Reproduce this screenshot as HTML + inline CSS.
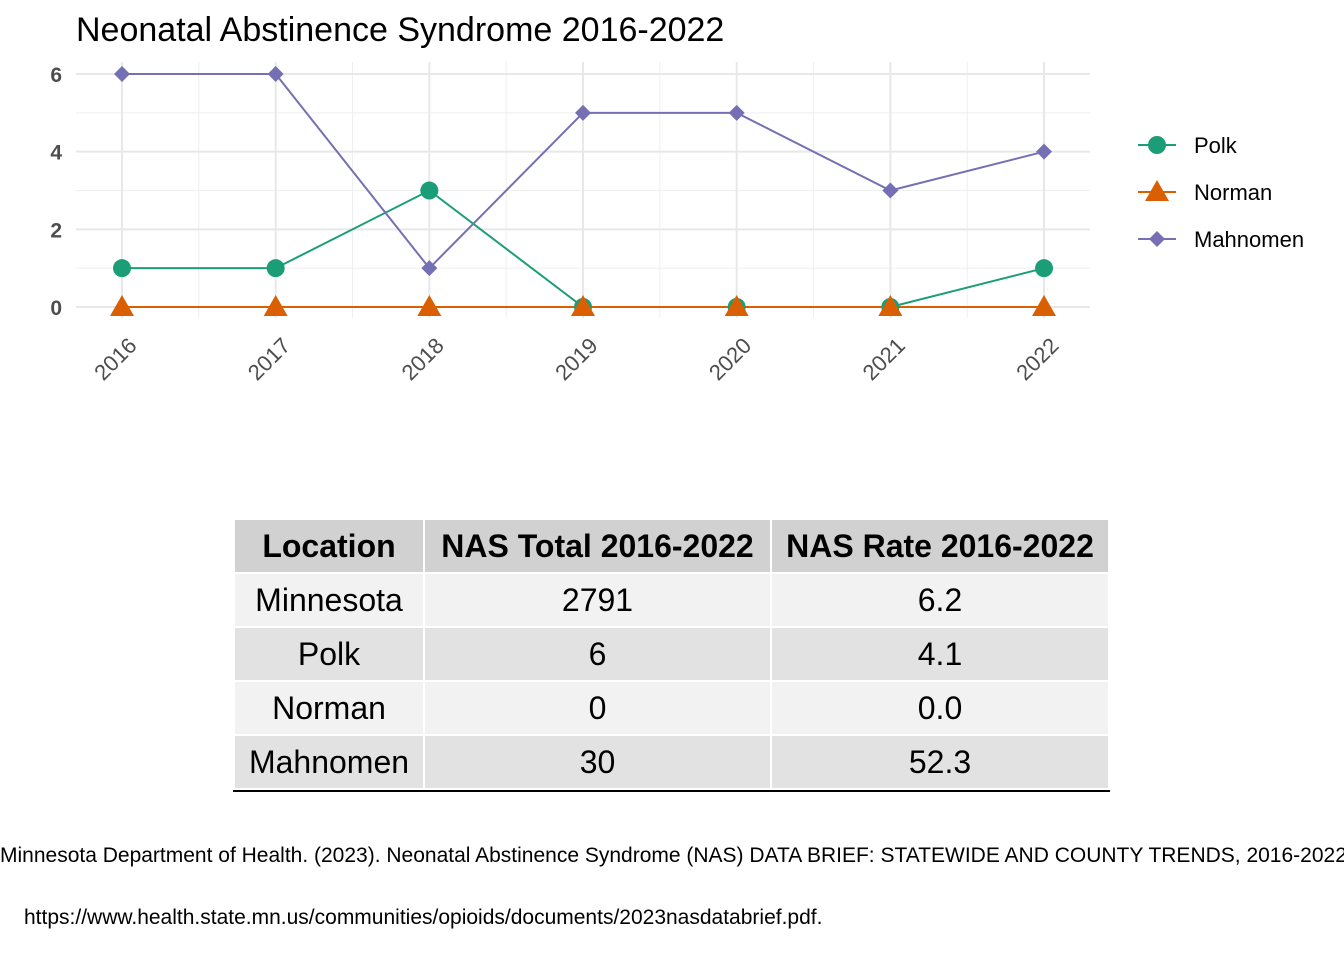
<!DOCTYPE html>
<html><head><meta charset="utf-8"><style>
body{margin:0;width:1344px;height:960px;background:#fff;font-family:"Liberation Sans",Arial,sans-serif;position:relative;overflow:hidden}
table{position:absolute;left:233px;top:518px;border-collapse:separate;border-spacing:2px 2px;border-bottom:2px solid #000}
td,th{font-size:32px;text-align:center;padding:0;height:52px;line-height:52px;color:#000;box-sizing:border-box}
th{background:#d1d1d1;font-weight:bold}
tr.o td{background:#f2f2f2} tr.e td{background:#e2e2e2}
.src{position:absolute;font-size:21px;color:#000;white-space:nowrap}
</style></head><body>
<svg id="chart" width="1344" height="420" style="position:absolute;left:0;top:0">
<text x="76" y="41" font-size="34" fill="#000">Neonatal Abstinence Syndrome 2016-2022</text>
<g id="grid"></g><g id="series"></g><g id="axes"></g><g id="legend"></g>
</svg>
<table>
<tr><th style="width:188px">Location</th><th style="width:345px">NAS Total 2016-2022</th><th style="width:336px">NAS Rate 2016-2022</th></tr>
<tr class="o"><td>Minnesota</td><td>2791</td><td>6.2</td></tr>
<tr class="e"><td>Polk</td><td>6</td><td>4.1</td></tr>
<tr class="o"><td>Norman</td><td>0</td><td>0.0</td></tr>
<tr class="e"><td>Mahnomen</td><td>30</td><td>52.3</td></tr>
</table>
<div class="src" style="left:0;top:844px">Minnesota Department of Health. (2023). Neonatal Abstinence Syndrome (NAS) DATA BRIEF: STATEWIDE AND COUNTY TRENDS, 2016-2022</div>
<div class="src" style="left:24px;top:906px">https://www.health.state.mn.us/communities/opioids/documents/2023nasdatabrief.pdf.</div>
<script>
const years=[2016,2017,2018,2019,2020,2021,2022];
const polk=[1,1,3,0,0,0,1];
const norman=[0,0,0,0,0,0,0];
const mahnomen=[6,6,1,5,5,3,4];
const yTicks=[0,2,4,6];
const seriesNames=["Polk","Norman","Mahnomen"];
const NS="http://www.w3.org/2000/svg";
const xs=y=>122+(y-2016)*153.67;
const ys=v=>307-v*38.83;
function mk(tag,attrs,parent){const e=document.createElementNS(NS,tag);for(const k in attrs)e.setAttribute(k,attrs[k]);parent.appendChild(e);return e;}
const grid=document.getElementById('grid'),ser=document.getElementById('series'),ax=document.getElementById('axes'),lg=document.getElementById('legend');
for(let v=1;v<=5;v+=2){const l=mk('line',{x1:76,x2:1090,y1:ys(v),y2:ys(v),stroke:'#efefef','stroke-width':1},grid);}
for(let i=0;i<years.length-1;i++){const x=(xs(years[i])+xs(years[i+1]))/2;const l=mk('line',{x1:x,x2:x,y1:62,y2:318,stroke:'#efefef','stroke-width':1},grid);}
yTicks.forEach(v=>{const l=mk('line',{x1:76,x2:1090,y1:ys(v),y2:ys(v),stroke:'#e8e8e8','stroke-width':2},grid);
const t=mk('text',{x:62,y:ys(v)+8,'text-anchor':'end','font-size':21,'font-weight':'bold',fill:'#4d4d4d'},ax);t.textContent=v;});
years.forEach(y=>{const l=mk('line',{x1:xs(y),x2:xs(y),y1:62,y2:318,stroke:'#e8e8e8','stroke-width':2},grid);
const t=mk('text',{x:0,y:0,'text-anchor':'end','font-size':22,fill:'#4d4d4d',transform:`translate(${xs(y)+16},${347}) rotate(-45)`},ax);t.textContent=y;});
const colors=['#1b9e77','#d95f02','#7570b3'];
function marker(k,x,y,p){let e;
 if(k===0)e=mk('circle',{cx:x,cy:y,r:9,fill:colors[0]},p);
 else if(k===1)e=mk('polygon',{points:`${x},${y-12} ${x+12},${y+9} ${x-12},${y+9}`,fill:colors[1]},p);
 else e=mk('polygon',{points:`${x},${y-8} ${x+8},${y} ${x},${y+8} ${x-8},${y}`,fill:colors[2]},p);return e;}
[polk,norman,mahnomen].forEach((d,k)=>{
 const pl=mk('polyline',{points:d.map((v,i)=>xs(years[i])+','+ys(v)).join(' '),fill:'none',stroke:colors[k],'stroke-width':2},ser);
 });
[polk,norman,mahnomen].forEach((d,k)=>{d.forEach((v,i)=>{const m=marker(k,xs(years[i]),ys(v),ser);
 });});
seriesNames.forEach((n,k)=>{const y=145+k*47;
 const l=mk('line',{x1:1138,x2:1176,y1:y,y2:y,stroke:colors[k],'stroke-width':2},lg);
 const m=marker(k,1157,y,lg);
 const t=mk('text',{x:1194,y:y+8,'font-size':22,fill:'#000'},lg);t.textContent=n;});
</script>
</body></html>
